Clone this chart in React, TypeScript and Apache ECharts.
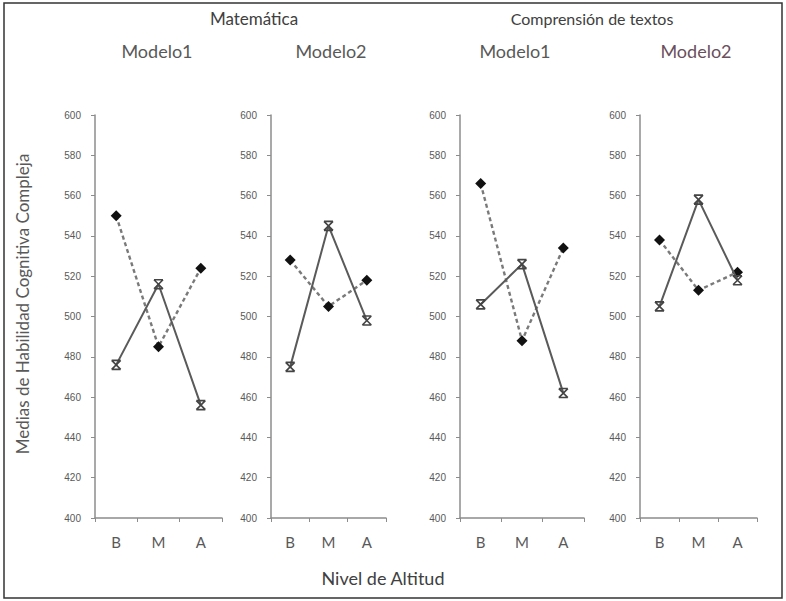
import React, { useEffect, useRef } from "react";
import * as echarts from "echarts";

const categories = ["B", "M", "A"];
const yTicks = [400, 420, 440, 460, 480, 500, 520, 540, 560, 580, 600];
const groupTitles = ["Matemática", "Comprensión de textos"];
const panelTitles = ["Modelo1", "Modelo2", "Modelo1", "Modelo2"];
// solid line with star markers
const solidSeries = [
  [476, 516, 456],
  [475, 545, 498],
  [506, 526, 462],
  [505, 558, 518],
];
// dashed line with diamond markers
const dashedSeries = [
  [550, 485, 524],
  [528, 505, 518],
  [566, 488, 534],
  [538, 513, 522],
];
const yAxisTitle = "Medias de Habilidad Cognitiva Compleja";
const xAxisTitle = "Nivel de Altitud";

const grids = [
  { left: 95, top: 115, width: 127, height: 403 },
  { left: 271, top: 115, width: 115, height: 403 },
  { left: 460, top: 115, width: 124, height: 403 },
  { left: 640, top: 115, width: 117, height: 403 },
];

const starPath = "path://M0 0L10 10M10 0L0 10M0 0L10 0M0 10L10 10";
const FONT = "Lato, 'Open Sans', sans-serif";

export default function App() {
  const ref = useRef<HTMLDivElement>(null);
  useEffect(() => {
    if (!ref.current) return;
    const chart = echarts.init(ref.current, null, { renderer: "svg" });
    const xAxis: any[] = [];
    const yAxis: any[] = [];
    const series: any[] = [];
    grids.forEach((g, i) => {
      xAxis.push({
        type: "category",
        gridIndex: i,
        data: categories,
        axisLine: { lineStyle: { color: "#8c8c8c", width: 1.5 } },
        axisTick: { show: true, length: 4, lineStyle: { color: "#8c8c8c" } },
        axisLabel: { color: "#595959", fontSize: 15, margin: 16, fontFamily: FONT },
      });
      yAxis.push({
        type: "value",
        gridIndex: i,
        min: yTicks[0],
        max: yTicks[yTicks.length - 1],
        interval: 20,
        splitLine: { show: false },
        axisLine: { show: true, lineStyle: { color: "#8c8c8c", width: 1.5 } },
        axisTick: { show: true, length: 4, lineStyle: { color: "#8c8c8c" } },
        axisLabel: {
          color: "#595959",
          fontSize: 10,
          margin: 14,
          fontFamily: "'Liberation Sans', Arial, sans-serif",
        },
      });
      series.push({
        type: "line",
        xAxisIndex: i,
        yAxisIndex: i,
        data: dashedSeries[i],
        symbol: "diamond",
        symbolSize: 11,
        itemStyle: { color: "#111" },
        lineStyle: { color: "#7a7a7a", width: 2.4, type: [4, 3] },
        z: 2,
      });
      series.push({
        type: "line",
        xAxisIndex: i,
        yAxisIndex: i,
        data: solidSeries[i],
        symbol: starPath,
        symbolSize: 9,
        itemStyle: { color: "none", borderColor: "#444", borderWidth: 1.6 },
        lineStyle: { color: "#5a5a5a", width: 2 },
        z: 3,
      });
    });
    const titleCenters = [157, 331, 515, 696];
    const graphic: any[] = [
      {
        type: "rect",
        shape: { x: 4, y: 3, width: 778, height: 595 },
        style: { fill: "none", stroke: "#333", lineWidth: 1.5 },
        silent: true,
      },
      {
        type: "text",
        x: 254,
        y: 18,
        style: { text: groupTitles[0], fill: "#404040", font: `17px ${FONT}`, textAlign: "center", textVerticalAlign: "middle" },
      },
      {
        type: "text",
        x: 592,
        y: 18,
        style: { text: groupTitles[1], fill: "#404040", font: `16px ${FONT}`, textAlign: "center", textVerticalAlign: "middle" },
      },
      ...panelTitles.map((t, i) => ({
        type: "text",
        x: titleCenters[i],
        y: 51,
        style: {
          text: t,
          fill: i === 3 ? "#6a4f5c" : "#595959",
          font: `18px ${FONT}`,
          textAlign: "center",
          textVerticalAlign: "middle",
        },
      })),
      {
        type: "text",
        x: 22,
        y: 304,
        rotation: Math.PI / 2,
        style: { text: yAxisTitle, fill: "#595959", font: `17px ${FONT}`, textAlign: "center", textVerticalAlign: "middle" },
      },
      {
        type: "text",
        x: 383,
        y: 578,
        style: { text: xAxisTitle, fill: "#404040", font: `18px ${FONT}`, textAlign: "center", textVerticalAlign: "middle" },
      },
    ];
    chart.setOption({
      animation: false,
      backgroundColor: "#fff",
      grid: grids.map((g) => ({ ...g, containLabel: false })),
      xAxis,
      yAxis,
      series,
      graphic,
    });
    return () => chart.dispose();
  }, []);
  return (
    <div
      ref={ref}
      style={{ position: "fixed", left: 0, top: 0, width: 786, height: 601 }}
    />
  );
}
